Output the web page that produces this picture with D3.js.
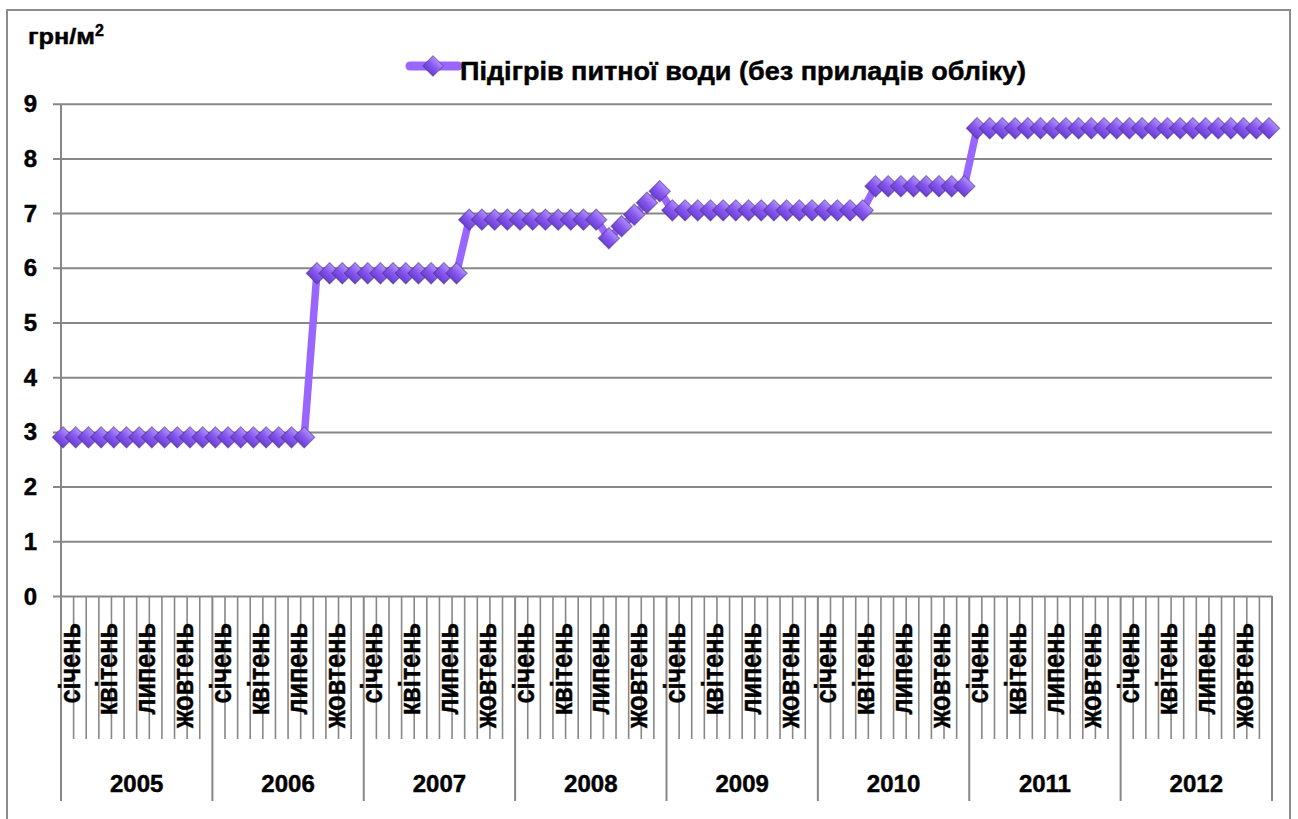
<!DOCTYPE html>
<html>
<head>
<meta charset="utf-8">
<script src="https://cdn.jsdelivr.net/npm/d3@7"></script>
<style>
    body { margin: 0; background: #fff; }
    text { font-family: "Liberation Sans", Arial, sans-serif; font-weight: bold; fill: #000;
           stroke: #000; stroke-width: 0.45px; }
</style>
</head>
<body>
<script>
// data
const years = ["2005", "2006", "2007", "2008", "2009", "2010", "2011", "2012"];
const months = ["січень", "лютий", "березень", "квітень", "травень", "червень",
    "липень", "серпень", "вересень", "жовтень", "листопад", "грудень"];
const shown_months = ["січень", "квітень", "липень", "жовтень"];
const y_ticks = [0, 1, 2, 3, 4, 5, 6, 7, 8, 9];
const series_name = "Підігрів питної води (без приладів обліку)";
const unit_label = "грн/м";

const values_2005 = [2.90, 2.90, 2.90, 2.90, 2.90, 2.90, 2.90, 2.90, 2.90, 2.90, 2.90, 2.90];
const values_2006 = [2.90, 2.90, 2.90, 2.90, 2.90, 2.90, 2.90, 2.90, 5.90, 5.90, 5.90, 5.90];
const values_2007 = [5.90, 5.90, 5.90, 5.90, 5.90, 5.90, 5.90, 5.90, 6.88, 6.88, 6.88, 6.88];
const values_2008 = [6.88, 6.88, 6.88, 6.88, 6.88, 6.88, 6.88, 6.54, 6.76, 6.97, 7.19, 7.40];
const values_2009 = [7.05, 7.05, 7.05, 7.05, 7.05, 7.05, 7.05, 7.05, 7.05, 7.05, 7.05, 7.05];
const values_2010 = [7.05, 7.05, 7.05, 7.05, 7.49, 7.49, 7.49, 7.49, 7.49, 7.49, 7.49, 7.49];
const values_2011 = [8.55, 8.55, 8.55, 8.55, 8.55, 8.55, 8.55, 8.55, 8.55, 8.55, 8.55, 8.55];
const values_2012 = [8.55, 8.55, 8.55, 8.55, 8.55, 8.55, 8.55, 8.55, 8.55, 8.55, 8.55, 8.55];

const values = [].concat(values_2005, values_2006, values_2007, values_2008,
    values_2009, values_2010, values_2011, values_2012);
const data = values.map((v, i) => ({
    key: `${years[Math.floor(i / 12)]}-${i % 12}`,
    year: years[Math.floor(i / 12)],
    month: months[i % 12],
    value: v
}));

const width = 1298;
const height = 819;
const plot_left = 61, plot_right = 1272, plot_top = 103.7, plot_bottom = 596;

const grid_colour = "#878787";
const line_colour = "#9966ff";

const svg = d3.select("body")
    .append("svg")
    .attr("width", width)
    .attr("height", height);

const defs = svg.append("defs");
const grad = defs.append("linearGradient")
    .attr("id", "marker_fill")
    .attr("x1", 0).attr("y1", 0)
    .attr("x2", 0).attr("y2", 1);
grad.append("stop").attr("offset", "0%").attr("stop-color", "#b18dff");
grad.append("stop").attr("offset", "55%").attr("stop-color", "#8455ee");
grad.append("stop").attr("offset", "100%").attr("stop-color", "#6b3fd2");

// chart frame
svg.append("rect")
    .attr("x", 7)
    .attr("y", 10)
    .attr("width", 1283)
    .attr("height", 830)
    .attr("fill", "#fff")
    .attr("stroke", "#8c8c8c")
    .attr("stroke-width", 2);

const y = d3.scaleLinear()
    .domain([0, 9])
    .range([plot_bottom, plot_top]);

// categories as bands for the tick lines, as points for the line
const band = d3.scaleBand()
    .domain(data.map(d => d.key))
    .range([plot_left, plot_right]);
const x = d3.scalePoint()
    .domain(data.map(d => d.key))
    .range([63, 1269]);

// horizontal grid + tick marks
const y_axis = d3.axisLeft(y)
    .tickValues(y_ticks)
    .tickSize(-(plot_right - plot_left))
    .tickSizeOuter(0)
    .tickFormat("");
const gy = svg.append("g")
    .attr("transform", `translate(${plot_left},0)`)
    .call(y_axis);
gy.select(".domain").remove();
gy.selectAll(".tick line")
    .attr("x1", -8)
    .attr("stroke", grid_colour)
    .attr("stroke-width", 2);

svg.append("g")
    .selectAll("text")
    .data(y_ticks)
    .join("text")
    .attr("x", 37)
    .attr("y", d => y(d) + 8.5)
    .attr("text-anchor", "end")
    .attr("font-size", 24)
    .text(d => d);

// vertical axis line
svg.append("line")
    .attr("x1", plot_left).attr("x2", plot_left)
    .attr("y1", plot_top).attr("y2", plot_bottom)
    .attr("stroke", grid_colour)
    .attr("stroke-width", 2);

// category tick lines under the axis
const boundaries = d3.range(data.length + 1);
svg.append("g")
    .selectAll("line")
    .data(boundaries)
    .join("line")
    .attr("x1", k => k < data.length ? band(data[k].key) : plot_right)
    .attr("x2", k => k < data.length ? band(data[k].key) : plot_right)
    .attr("y1", plot_bottom)
    .attr("y2", k => k % 12 === 0 ? 801 : 739)
    .attr("stroke", grid_colour)
    .attr("stroke-width", k => k % 12 === 0 ? 2 : 1.6);

// month labels (every third month), rotated
const month_labels = data.filter(d => shown_months.includes(d.month));
svg.append("g")
    .selectAll("text")
    .data(month_labels)
    .join("text")
    .attr("transform", d => `translate(${band(d.key) + band.bandwidth() + 6},623) rotate(-90) scale(0.87,1)`)
    .attr("text-anchor", "end")
    .attr("font-size", 29)
    .text(d => d.month);

// year labels
svg.append("g")
    .selectAll("text")
    .data(years)
    .join("text")
    .attr("x", (yr, i) => band(data[i * 12].key) + band.step() * 6)
    .attr("y", 792)
    .attr("text-anchor", "middle")
    .attr("font-size", 24)
    .text(yr => yr);

// series
const line = d3.line()
    .x(d => x(d.key))
    .y(d => y(d.value));

svg.append("path")
    .datum(data)
    .attr("d", line)
    .attr("fill", "none")
    .attr("stroke", line_colour)
    .attr("stroke-width", 7.5)
    .attr("stroke-linejoin", "round");

const diamond = d3.symbol().type(d3.symbolSquare).size(225);

svg.append("g")
    .selectAll("path")
    .data(data)
    .join("path")
    .attr("transform", d => `translate(${x(d.key)},${y(d.value)}) rotate(45)`)
    .attr("d", diamond)
    .attr("fill", "url(#marker_fill)")
    .attr("stroke", "#4b3480")
    .attr("stroke-opacity", 0.55)
    .attr("stroke-width", 1.2);

// unit label
const unit = svg.append("text")
    .attr("x", 28)
    .attr("y", 44)
    .attr("font-size", 22);
unit.append("tspan")
    .attr("textLength", 67)
    .attr("lengthAdjust", "spacingAndGlyphs")
    .text(unit_label);
unit.append("tspan")
    .attr("dy", -8)
    .attr("font-size", 16)
    .text("2");

// legend
const legend = svg.append("g")
    .attr("id", "legend");
legend.append("line")
    .attr("x1", 410).attr("x2", 458)
    .attr("y1", 66).attr("y2", 66)
    .attr("stroke", line_colour)
    .attr("stroke-width", 9)
    .attr("stroke-linecap", "round");
legend.append("path")
    .attr("transform", "translate(433,66) rotate(45)")
    .attr("d", d3.symbol().type(d3.symbolSquare).size(210))
    .attr("fill", "url(#marker_fill)")
    .attr("stroke", "#4b3480")
    .attr("stroke-opacity", 0.55);
legend.append("text")
    .attr("x", 460)
    .attr("y", 80)
    .attr("font-size", 26)
    .attr("textLength", 566)
    .attr("lengthAdjust", "spacingAndGlyphs")
    .text(series_name);
</script>
</body>
</html>
